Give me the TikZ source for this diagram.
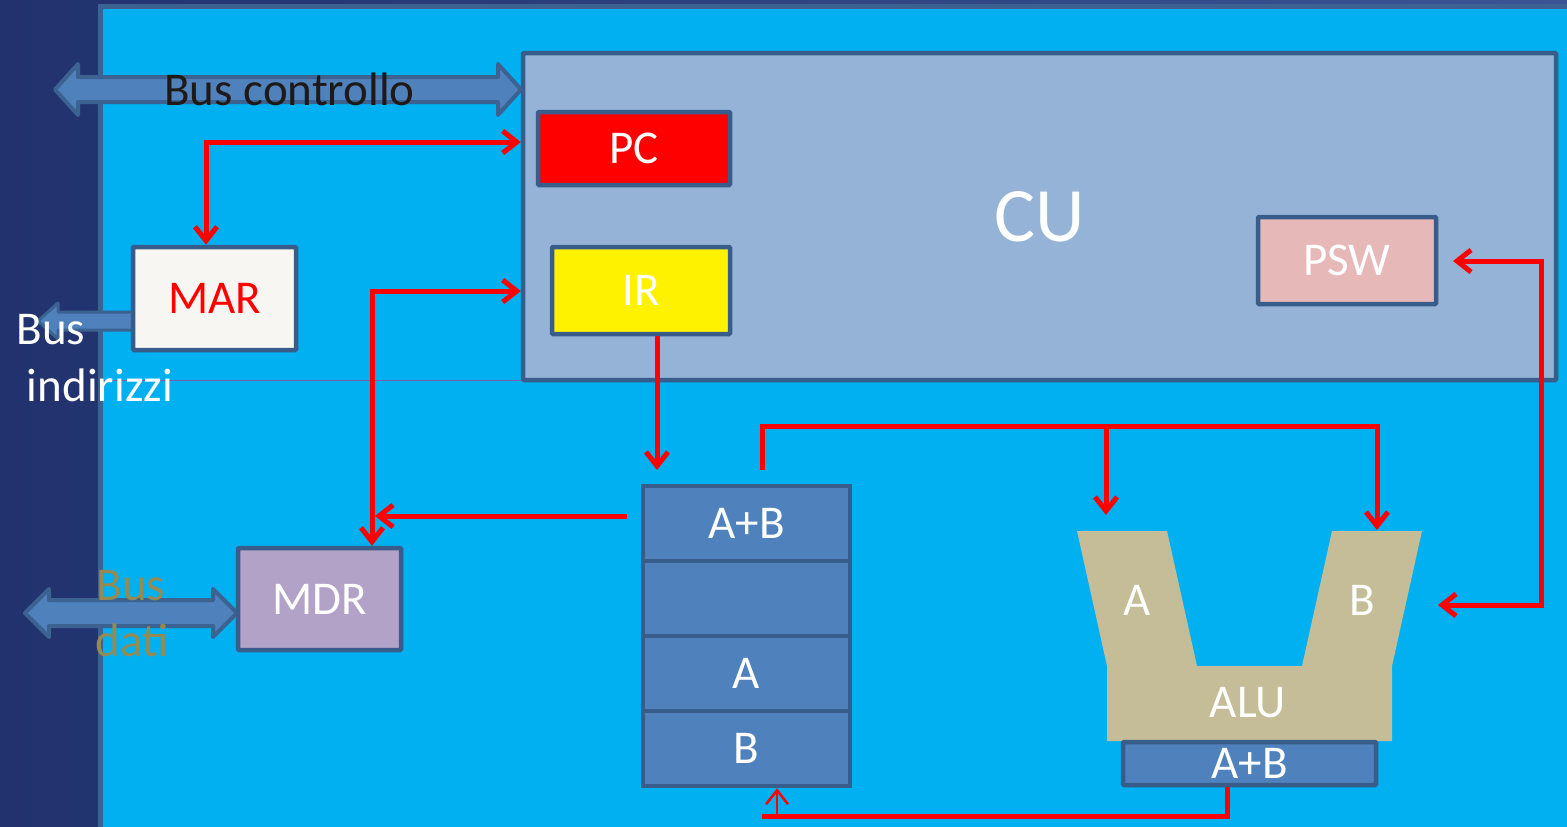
\documentclass[tikz,border=0pt]{standalone}
\usepackage{fontspec}
\setmainfont{Carlito}
\usetikzlibrary{arrows.meta}
\definecolor{navyA}{HTML}{21326E}
\definecolor{navyB}{HTML}{3A5496}
\definecolor{panelblue}{HTML}{00B0F0}
\definecolor{panelborder}{HTML}{3B6290}
\definecolor{boxborder}{HTML}{385D8A}
\definecolor{cufill}{HTML}{95B3D7}
\definecolor{regfill}{HTML}{4F81BD}
\definecolor{alufill}{HTML}{C4BD97}
\definecolor{pswfill}{HTML}{E6B9B8}
\definecolor{mdrfill}{HTML}{B3A2C7}
\definecolor{marfill}{HTML}{F8F6F2}
\definecolor{datitext}{HTML}{948A54}
\definecolor{ctrltext}{HTML}{1F1A17}
\definecolor{thinline}{HTML}{6F5FA8}
\newcommand\lblfont{\fontsize{47}{56}\selectfont}
\newcommand\cufont{\fontsize{77}{90}\selectfont}
\begin{document}
\begin{tikzpicture}[x=1pt,y=-1pt,
  >={Straight Barb[length=14pt,width=22pt]},
  regbox/.style={draw=boxborder,line width=4.5pt,rounded corners=1pt,inner sep=0pt,text=white,font=\lblfont},
  lbl/.style={inner sep=0pt,text=white,font=\lblfont},
  redline/.style={draw=red,line width=5pt},
  thinred/.style={draw=red,line width=2.5pt},
  busarrow/.style={fill=regfill,draw=panelborder,line width=4pt,line join=round}]
\useasboundingbox (0,0) rectangle (1567,827);
\clip (0,0) rectangle (1567,827);
% background
\shade[left color=navyA,right color=navyB] (0,0) rectangle (1567,827);
\draw[fill=panelblue,draw=panelborder,line width=5pt] (100,6) rectangle (1590,850);
\draw[thinline,line width=1pt] (100,380.5) -- (521,380.5);
% CU
\node[regbox,fill=cufill,minimum width=1033pt,minimum height=327pt,font=\cufont] (cu) at (1039.5,216.5) {CU};
\node[regbox,fill=red,minimum width=192pt,minimum height=73pt] (pc) at (634,148.5) {PC};
\node[regbox,fill=yellow,minimum width=178pt,minimum height=87pt] (ir) at (641,290.5) {IR};
\node[regbox,fill=pswfill,minimum width=178pt,minimum height=87pt] (psw) at (1347,260.5) {PSW};
% buses
\draw[busarrow] (55,89.5) -- (78,64) -- (78,77) -- (498,77) -- (498,64) -- (521,89.5) -- (498,115) -- (498,102) -- (78,102) -- (78,115) -- cycle;
\node[inner sep=0pt,anchor=base,font=\lblfont,text=ctrltext] (busctrl) at (289.5,105) {Bus controllo};
\draw[busarrow,line width=3pt] (38,321) -- (58,303) -- (58,312) -- (135,312) -- (135,330) -- (58,330) -- (58,339) -- cycle;
\draw[busarrow] (25,613) -- (49,589) -- (49,600) -- (213,600) -- (213,589) -- (237,613) -- (213,637) -- (213,626) -- (49,626) -- (49,637) -- cycle;
% MAR, MDR
\node[regbox,fill=marfill,text=red,minimum width=163pt,minimum height=103pt] (mar) at (214.5,298.5) {MAR};
\node[regbox,fill=mdrfill,minimum width=163pt,minimum height=102pt] (mdr) at (319.5,599) {MDR};
\node[lbl,anchor=base] (busind1) at (51,344) {Bus};
\node[lbl,anchor=base] (busind2) at (100,401) {indirizzi};
\node[lbl,anchor=base,text=datitext] (busdati1) at (131,600) {Bus};
\node[lbl,anchor=base,text=datitext] (busdati2) at (132,656) {dati};
% register stack
\node[regbox,fill=regfill,rounded corners=0pt,minimum width=207pt,minimum height=75pt] (s1) at (746.5,523.5) {A+B};
\node[regbox,fill=regfill,rounded corners=0pt,minimum width=207pt,minimum height=75pt] (s2) at (746.5,598.5) {};
\node[regbox,fill=regfill,rounded corners=0pt,minimum width=207pt,minimum height=75pt] (s3) at (746.5,673.5) {A};
\node[regbox,fill=regfill,rounded corners=0pt,minimum width=207pt,minimum height=75pt] (s4) at (746.5,748.5) {B};
% ALU
\fill[alufill] (1077,531) -- (1167,531) -- (1197,666) -- (1302,666) -- (1332,531) -- (1422,531) -- (1392,666) -- (1392,741) -- (1107,741) -- (1107,666) -- cycle;
\node[lbl] (aluA) at (1137,600) {A};
\node[lbl] (aluB) at (1362,600) {B};
\node[lbl] (alu) at (1248,703) {ALU};
\node[regbox,fill=regfill,minimum width=253pt,minimum height=43pt] (aluout) at (1249.5,763.5) {A+B};
% red connectors
\coordinate (pcA) at (206,142);
\draw[redline,<->] (mar.north -| pcA) -- (pcA) -- (cu.west |- pcA);
\coordinate (irA) at (372,291);
\draw[redline,<->] (mdr.north -| irA) -- (irA) -- (cu.west |- irA);
\coordinate (stA) at (627,516);
\coordinate (stAend) at (375,516);
\draw[redline,->] (stA) -- (stAend);
\coordinate (irD) at (657,470);
\draw[redline,->] (ir.south -| irD) -- (irD);
\coordinate (stT) at (762,470);
\coordinate (topR) at (1377,426.5);
\coordinate (topM) at (1106,426.5);
\coordinate (inA) at (1106,515);
\coordinate (inB) at (1377,530);
\draw[redline,->] (stT) |- (topR) -- (inB);
\draw[redline,->] (topM) -- (inA);
\coordinate (pswT) at (1453,261);
\coordinate (pswC) at (1541,261);
\coordinate (inBside) at (1438,605);
\draw[redline,<->] (pswT) -- (pswC) |- (inBside);
\coordinate (outD) at (1227,816);
\coordinate (stB) at (762,816);
\draw[redline] (aluout.south -| outD) -- (outD) -- (stB);
\coordinate (upA) at (777,814);
\draw[thinred,->] (upA) -- (s4.south -| upA);
\end{tikzpicture}
\end{document}
